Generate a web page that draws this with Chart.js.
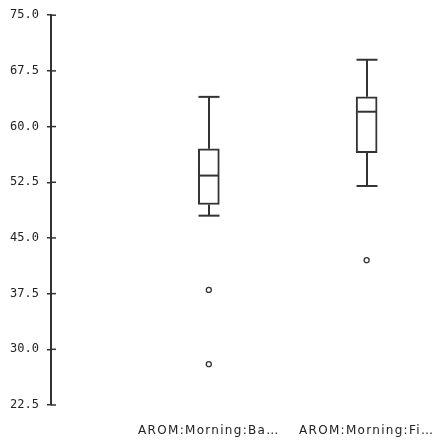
<!DOCTYPE html>
<html>
<head>
<meta charset="utf-8">
<script src="https://cdn.jsdelivr.net/npm/chart.js@4.4.1/dist/chart.umd.min.js"></script>
<style>
  html, body { margin: 0; padding: 0; background: #fff; }
</style>
</head>
<body>
<canvas id="chart" width="436" height="443"></canvas>
<script>
const categories = ['AROM:Morning:Ba…', 'AROM:Morning:Fi…'];
const whiskerLow = [48, 52];
const q1 = [49.5, 56.5];
const median = [53.4, 62];
const q3 = [57, 64];
const whiskerHigh = [64, 69];
const outliers = [[38, 28], [42]];

const LINE = '#333';
const TEXT = '#222';
const BOX_WIDTH = 21;

// whiskers, caps and median drawn on top of the floating bars
const boxWhiskers = {
    id: 'boxWhiskers',
    afterDatasetsDraw(chart) {
        const { ctx, scales: { x, y } } = chart;
        const half = BOX_WIDTH / 2;
        ctx.save();
        ctx.strokeStyle = LINE;
        ctx.lineWidth = 2;
        categories.forEach((c, i) => {
            const px = Math.round(x.getPixelForValue(i + 1));
            const seg = (x1, y1, x2, y2) => {
                ctx.beginPath();
                ctx.moveTo(x1, y1);
                ctx.lineTo(x2, y2);
                ctx.stroke();
            };
            seg(px, y.getPixelForValue(q3[i]), px, y.getPixelForValue(whiskerHigh[i]));
            seg(px, y.getPixelForValue(q1[i]), px, y.getPixelForValue(whiskerLow[i]));
            seg(px - half, y.getPixelForValue(whiskerHigh[i]), px + half, y.getPixelForValue(whiskerHigh[i]));
            seg(px - half, y.getPixelForValue(whiskerLow[i]), px + half, y.getPixelForValue(whiskerLow[i]));
            seg(px - half + 1, y.getPixelForValue(median[i]), px + half - 1, y.getPixelForValue(median[i]));
        });
        ctx.restore();
    },
};

// ticks cross the axis: add the inner half
const innerTicks = {
    id: 'innerTicks',
    afterDraw(chart) {
        const { ctx, scales: { y } } = chart;
        ctx.save();
        ctx.strokeStyle = LINE;
        ctx.lineWidth = 1.5;
        y.ticks.forEach((t, i) => {
            const py = y.getPixelForTick(i);
            ctx.beginPath();
            ctx.moveTo(y.right, py);
            ctx.lineTo(y.right + 5, py);
            ctx.stroke();
        });
        ctx.restore();
    },
};

// wider letter spacing for the category labels only
const spacedLabels = {
    id: 'spacedLabels',
    afterLayout(chart) {
        const x = chart.scales.x;
        if (x._spaced) return;
        x._spaced = true;
        const orig = x.drawLabels.bind(x);
        x.drawLabels = (area) => {
            const ctx = chart.ctx;
            ctx.letterSpacing = '1.3px';
            orig(area);
            ctx.letterSpacing = '0px';
        };
    },
};

new Chart(document.getElementById('chart').getContext('2d'), {
    data: {
        datasets: [
            {
                type: 'bar',
                data: categories.map((c, i) => ({ x: i + 1, y: [q1[i], q3[i]] })),
                backgroundColor: '#fff',
                borderColor: LINE,
                borderWidth: 2,
                borderSkipped: false,
                barThickness: BOX_WIDTH,
            },
            {
                type: 'scatter',
                data: outliers.flatMap((list, i) => list.map((v) => ({ x: i + 1, y: v }))),
                pointRadius: 2.5,
                borderWidth: 1.3,
                borderColor: LINE,
                backgroundColor: '#fff',
            },
        ],
    },
    options: {
        responsive: false,
        animation: false,
        layout: { padding: { top: 14, left: 0, right: 0, bottom: 0 } },
        plugins: { legend: { display: false }, tooltip: { enabled: false } },
        scales: {
            x: {
                type: 'linear',
                offset: false,
                min: 0,
                max: 2.406,
                afterBuildTicks: (s) => { s.ticks = categories.map((c, i) => ({ value: i + 1 })); },
                afterFit: (s) => { s.height = 38; s.paddingLeft = 0; s.paddingRight = 0; },
                grid: { display: true, offset: false, drawOnChartArea: false, color: 'rgba(0,0,0,0)', tickLength: 16 },
                border: { display: false },
                ticks: {
                    autoSkip: false,
                    maxRotation: 0,
                    padding: 3,
                    color: TEXT,
                    font: { family: 'DejaVu Sans', size: 12 },
                    callback: (v) => categories[v - 1],
                },
            },
            y: {
                min: 22.5,
                max: 75,
                afterFit: (s) => { s.width = 51; },
                grid: { drawOnChartArea: false, color: LINE, lineWidth: 1.5, tickLength: 4 },
                border: { display: true, color: LINE, width: 2 },
                ticks: {
                    stepSize: 7.5,
                    padding: 8,
                    color: TEXT,
                    font: { family: 'DejaVu Sans Mono', size: 12 },
                    callback: (v) => v.toFixed(1),
                },
            },
        },
    },
    plugins: [boxWhiskers, innerTicks, spacedLabels],
});
</script>
</body>
</html>
